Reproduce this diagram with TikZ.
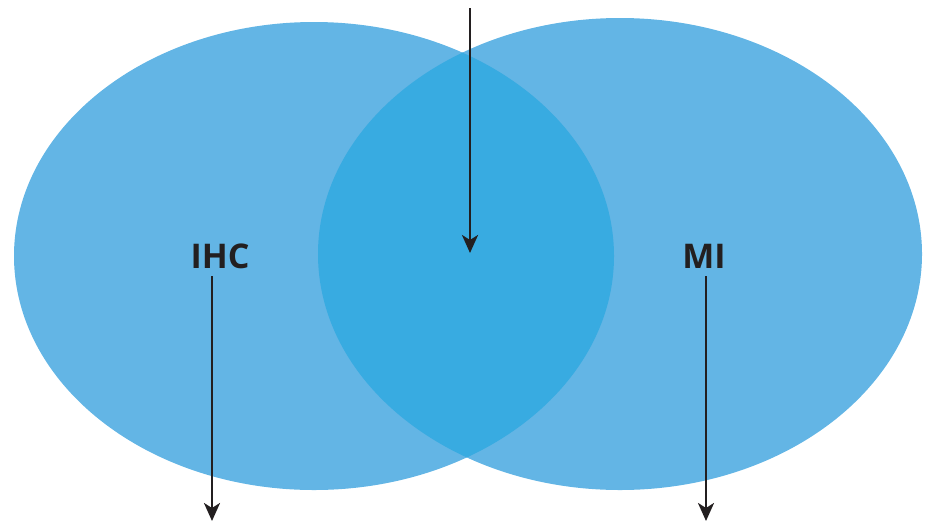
\documentclass[tikz,border=0pt]{standalone}
\usepackage{fontspec}
\setmainfont{Open Sans}
\usetikzlibrary{arrows.meta}
\definecolor{lightblue}{HTML}{63B5E5}
\definecolor{midblue}{HTML}{38ABE1}
\definecolor{ink}{HTML}{231F20}
\tikzset{
  lbl/.style={font=\bfseries\fontsize{34}{36}\selectfont, text=ink, inner sep=0pt},
  arr/.style={draw=ink, line width=2.8pt, -{Stealth[length=18pt,width=16pt,inset=5pt]}}
}
\begin{document}
\begin{tikzpicture}[x=1pt,y=-1pt]
\useasboundingbox (0,0) rectangle (928,523);
\fill[lightblue] (314,256) ellipse [x radius=300, y radius=234];
\fill[lightblue] (620,254) ellipse [x radius=302, y radius=236];
\begin{scope}
  \clip (314,256) ellipse [x radius=300, y radius=234];
  \fill[midblue] (620,254) ellipse [x radius=302, y radius=236];
\end{scope}
\node[lbl] (ihc) at (220,256) {IHC};
\node[lbl] (mi) at (704,256) {MI};
\coordinate (topstart) at (470,8);
\coordinate (center) at (470,253);
\coordinate (ihcend) at (212,521);
\coordinate (miend) at (706,521);
\draw[arr] (topstart) -- (center);
\draw[arr] (212,276) -- (ihcend);
\draw[arr] (706,276) -- (miend);
\end{tikzpicture}
\end{document}
